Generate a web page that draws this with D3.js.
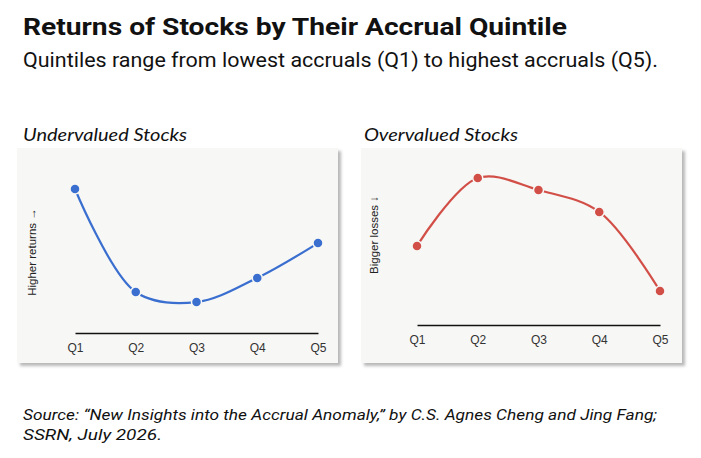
<!DOCTYPE html>
<html>
<head>
<meta charset="utf-8">
<script src="https://cdn.jsdelivr.net/npm/d3@7"></script>
<style>
  body { margin: 0; background: #fff; }
  svg { display: block; }
</style>
</head>
<body>
<div id="chart"></div>
<script>
/* DATA */
const quintiles = ['Q1', 'Q2', 'Q3', 'Q4', 'Q5'];
// relative position on each panel's vertical axis (0 = baseline, 100 = top)
const undervaluedValues = [84.7, 24.1, 18.2, 32.4, 52.9];
const overvaluedValues = [46.5, 86.5, 79.4, 66.5, 20.0];

const W = 701;
const H = 458;

const svg = d3
  .select('#chart')
  .append('svg')
  .attr('width', W)
  .attr('height', H)
  .attr('viewBox', `0 0 ${W} ${H}`);

svg.append('rect').attr('width', W).attr('height', H).attr('fill', '#fff');

// drop shadow for the panel cards
const defs = svg.append('defs');
const f = defs
  .append('filter')
  .attr('id', 'shadow')
  .attr('x', '-5%')
  .attr('y', '-5%')
  .attr('width', '115%')
  .attr('height', '115%');
f.append('feDropShadow')
  .attr('dx', 3)
  .attr('dy', 3)
  .attr('stdDeviation', 1.8)
  .attr('flood-color', '#000')
  .attr('flood-opacity', 0.28);

// Titles
svg
  .append('text')
  .attr('x', 23)
  .attr('y', 35)
  .attr('font-family', 'Roboto, sans-serif')
  .attr('font-weight', 700)
  .attr('font-size', 24)
  .attr('fill', '#111')
  .attr('textLength', 544)
  .attr('lengthAdjust', 'spacingAndGlyphs')
  .text('Returns of Stocks by Their Accrual Quintile');

svg
  .append('text')
  .attr('x', 23)
  .attr('y', 67)
  .attr('font-family', 'Roboto, sans-serif')
  .attr('font-size', 20)
  .attr('fill', '#111')
  .attr('textLength', 635)
  .attr('lengthAdjust', 'spacingAndGlyphs')
  .text('Quintiles range from lowest accruals (Q1) to highest accruals (Q5).');

// Source
const src = svg
  .append('g')
  .attr('font-family', 'Roboto, sans-serif')
  .attr('font-style', 'italic')
  .attr('font-size', 15)
  .attr('fill', '#111');
src
  .append('text')
  .attr('x', 23)
  .attr('y', 420)
  .attr('textLength', 634)
  .attr('lengthAdjust', 'spacingAndGlyphs')
  .text('Source: \u201cNew Insights into the Accrual Anomaly,\u201d by C.S. Agnes Cheng and Jing Fang;');
src
  .append('text')
  .attr('x', 23)
  .attr('y', 440)
  .attr('textLength', 139)
  .attr('lengthAdjust', 'spacingAndGlyphs')
  .text('SSRN, July 2026.');

// one panel per stock group
function panel(opts) {
  const g = svg.append('g');

  g.append('text')
    .attr('x', opts.titleX)
    .attr('y', 141)
    .attr('font-family', 'Lato, sans-serif')
    .attr('font-style', 'italic')
    .attr('font-size', 17)
    .attr('fill', '#111')
    .attr('textLength', opts.titleLen)
    .attr('lengthAdjust', 'spacingAndGlyphs')
    .text(opts.title);

  g.append('rect')
    .attr('x', opts.box[0])
    .attr('y', opts.box[1])
    .attr('width', opts.box[2])
    .attr('height', opts.box[3])
    .attr('fill', '#f7f7f5')
    .attr('filter', 'url(#shadow)');

  const x = d3.scalePoint().domain(quintiles).range(opts.xRange);
  const y = d3.scaleLinear().domain([0, 100]).range([opts.base, opts.base - 170]);

  // baseline axis
  const axis = d3.axisBottom(x).tickSize(0).tickPadding(10);
  const ax = g
    .append('g')
    .attr('transform', `translate(0, ${opts.base})`)
    .call(axis);
  ax.select('.domain').attr('stroke', '#111').attr('stroke-width', 1.6);
  ax.selectAll('text')
    .attr('font-family', 'Liberation Sans, Arial, sans-serif')
    .attr('font-size', 12)
    .attr('fill', '#333');

  // y label
  g.append('text')
    .attr('transform', `translate(${opts.labelX}, ${opts.labelY}) rotate(-90)`)
    .attr('text-anchor', 'middle')
    .attr('font-family', 'Liberation Sans, Arial, sans-serif')
    .attr('font-size', 11.5)
    .attr('fill', '#222')
    .text(opts.yLabel);

  const data = quintiles.map((q, i) => ({ q: q, v: opts.values[i] }));

  const line = d3
    .line()
    .x((d) => x(d.q))
    .y((d) => y(d.v))
    .curve(d3.curveCatmullRom.alpha(0.5));

  g.append('path')
    .datum(data)
    .attr('d', line)
    .attr('fill', 'none')
    .attr('stroke', opts.color)
    .attr('stroke-width', 2.2);

  g.selectAll('circle')
    .data(data)
    .enter()
    .append('circle')
    .attr('cx', (d) => x(d.q))
    .attr('cy', (d) => y(d.v))
    .attr('r', 5)
    .attr('fill', opts.color)
    .attr('stroke', '#f7f7f5')
    .attr('stroke-width', 1.5);
}

panel({
  title: 'Undervalued Stocks',
  titleX: 23,
  titleLen: 164,
  box: [17, 148, 321, 215],
  xRange: [75, 318],
  base: 333,
  labelX: 36,
  labelY: 252,
  yLabel: 'Higher returns \u2192',
  values: undervaluedValues,
  color: '#3a6fd0',
});

panel({
  title: 'Overvalued Stocks',
  titleX: 364,
  titleLen: 154,
  box: [361, 148, 321, 215],
  xRange: [417, 660],
  base: 325,
  labelX: 378,
  labelY: 235,
  yLabel: 'Bigger losses \u2193',
  values: overvaluedValues,
  color: '#d24f48',
});
</script>
</body>
</html>
